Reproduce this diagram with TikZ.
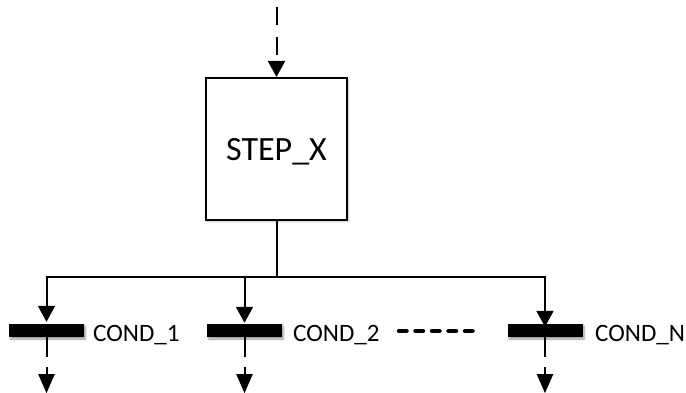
\documentclass[tikz,border=0pt]{standalone}
\usepackage{fontspec}
\setmainfont{Carlito}
\usetikzlibrary{arrows.meta,shadows.blur}
\begin{document}
\begin{tikzpicture}[x=1pt,y=-1pt,
  conn/.style={line width=2pt,draw=black},
  tipA/.style={-{Triangle[length=16pt,width=17pt]}},
  tipB/.style={-{Triangle[length=19pt,width=16pt]}},
  stepbox/.style={draw=black,line width=2pt,fill=white,minimum width=141pt,minimum height=142pt,inner sep=0pt,
    blur shadow={shadow xshift=1.5pt,shadow yshift=-1.5pt,shadow blur steps=6,shadow opacity=25}},
  condbar/.style={fill=black,draw=none,minimum width=75pt,minimum height=13pt,inner sep=0pt,
    blur shadow={shadow xshift=1.5pt,shadow yshift=-2pt,shadow blur steps=8,shadow opacity=40}},
  condlabel/.style={anchor=base west,inner sep=0pt,font=\fontsize{25pt}{30pt}\selectfont},
]
\useasboundingbox (0,0) rectangle (686,393);
% box
\node[stepbox] (step) at (276.5,149) {};
\node[anchor=base,inner sep=0pt,font=\fontsize{34pt}{40pt}\selectfont] (steptext) at (276.5,161) {STEP\_X};
% top dashed input
\coordinate (top) at (276.5,7);
\draw[conn,dash pattern=on 18pt off 12pt,tipA] (top) -- (step.north);
% junction
\coordinate (j) at (276.5,277);
% bars
\node[condbar] (b1) at (46.5,330.5) {};
\node[condbar] (b2) at (244.5,330.5) {};
\node[condbar] (bN) at (545,330.5) {};
% labels
\node[condlabel] (l1) at (93,341) {COND\_1};
\node[condlabel] (l2) at (293,341) {COND\_2};
\node[condlabel] (lN) at (595,341) {COND\_N};
% connectors
\draw[conn] (step.south) -- (j);
\draw[conn,tipA] (j) -| ([yshift=2pt]b1.north);
\draw[conn,tipA] (j) -| ([yshift=-3pt]bN.north);
\draw[conn,tipA] (j -| b2) -- ([yshift=1pt]b2.north);
% lower stubs and arrows
\foreach \b in {b1,b2,bN}{
  \coordinate (\b s) at ([yshift=-20pt]\b.south);
  \coordinate (\b a) at ([yshift=-30pt]\b.south);
  \coordinate (\b e) at ([yshift=-56pt]\b.south);
  \draw[conn] (\b.center) -- (\b s);
  \draw[conn,tipB] (\b a) -- (\b e);
}
% dotted continuation
\coordinate (d1) at (399,331);
\coordinate (d2) at (475,331);
\draw[line width=4.5pt,line cap=round,dash pattern=on 7.5pt off 9pt] (d1) -- (d2);
\end{tikzpicture}
\end{document}
